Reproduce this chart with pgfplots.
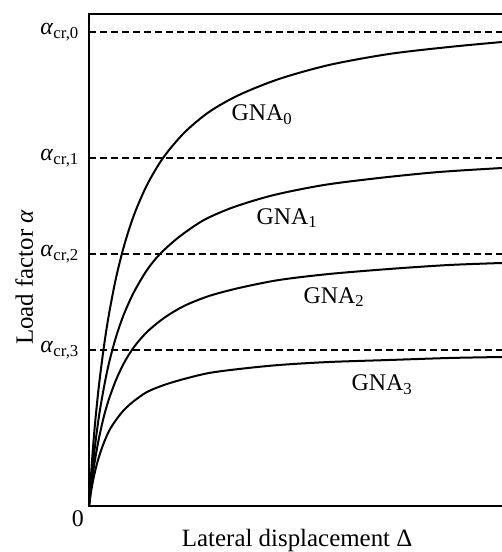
\documentclass[border=0pt]{standalone}
\usepackage{fontspec}
\setmainfont{Liberation Serif}
\usepackage{pgfplots}
\pgfplotsset{compat=1.18}

\begin{document}
\begin{tikzpicture}
\fontsize{24}{28}\selectfont
\begin{axis}[
    scale only axis,
    width=413bp, height=492bp,
    xmin=0, xmax=413,
    ymin=0, ymax=492,
    axis line style={draw=none},
    xtick=\empty,
    ytick={156,252,348,474},
    yticklabels={\textit{α}\textsubscript{cr,3},\textit{α}\textsubscript{cr,2},\textit{α}\textsubscript{cr,1},\textit{α}\textsubscript{cr,0}},
    major tick length=0pt,
    yticklabel style={inner sep=0pt, xshift=-10bp, font=\fontsize{24}{28}\selectfont},
    xlabel={Lateral displacement Δ},
    ylabel={Load factor \textit{α}},
    every axis x label/.style={at={(axis description cs:0.504,-0.071)}, anchor=center, font=\fontsize{25}{30}\selectfont},
    every axis y label/.style={at={(axis description cs:-0.157,0.465)}, rotate=90, anchor=center, font=\fontsize{25}{30}\selectfont},
    clip=false,
]
% reference levels
\addplot[black, line width=1.6bp, dash pattern=on 7bp off 4bp] coordinates {(0,474) (413,474)};
\addplot[black, line width=1.6bp, dash pattern=on 7bp off 4bp] coordinates {(0,348) (413,348)};
\addplot[black, line width=1.6bp, dash pattern=on 7bp off 4bp] coordinates {(0,252) (413,252)};
\addplot[black, line width=1.6bp, dash pattern=on 7bp off 4bp] coordinates {(0,156) (413,156)};

% GNA_0
\addplot[black, line width=2bp, smooth] coordinates {
    (0,0) (3,45) (6,82) (10,121) (15,160) (20,192) (27,228) (35,260) (45,291)
    (58,321) (74,348) (95,373) (120,394) (150,411) (190,427) (240,441)
    (300,452) (360,459) (413,464)
};
% GNA_1
\addplot[black, line width=2bp, smooth] coordinates {
    (0,0) (3,33) (6,60) (10,90) (15,119) (20,143) (27,169) (35,192) (45,214)
    (58,236) (71,252) (90,269) (115,286) (145,299) (185,311) (235,321)
    (290,328) (350,334) (413,338)
};
% GNA_2
\addplot[black, line width=2bp, smooth] coordinates {
    (0,0) (3,26) (6,46) (10,68) (15,90) (20,107) (27,126) (35,143) (45,159)
    (58,174) (75,188) (95,200) (120,210) (150,218) (190,226) (240,232)
    (300,237) (360,241) (413,243)
};
% GNA_3
\addplot[black, line width=2bp, smooth] coordinates {
    (0,0) (2,14) (5,30) (9,46) (14,61) (20,75) (27,86) (35,96) (45,105)
    (58,114) (75,121) (95,127) (120,133) (150,137) (190,141) (240,144)
    (300,146) (360,148) (413,149)
};

\node at (axis cs:173,391) {GNA\textsubscript{0}};
\node at (axis cs:198,288) {GNA\textsubscript{1}};
\node at (axis cs:245,209) {GNA\textsubscript{2}};
\node at (axis cs:293,121) {GNA\textsubscript{3}};
\node[anchor=north east, inner sep=0pt] at (axis cs:-5,-4) {0};

% frame: left, bottom, top
\draw[line width=1.3bp] (axis cs:413,492) -- (axis cs:0,492) -- (axis cs:0,0) -- (axis cs:413,0);
\end{axis}
\pgfresetboundingbox
\useasboundingbox (-89bp,-46bp) rectangle (413bp,506bp);
\end{tikzpicture}
\end{document}
